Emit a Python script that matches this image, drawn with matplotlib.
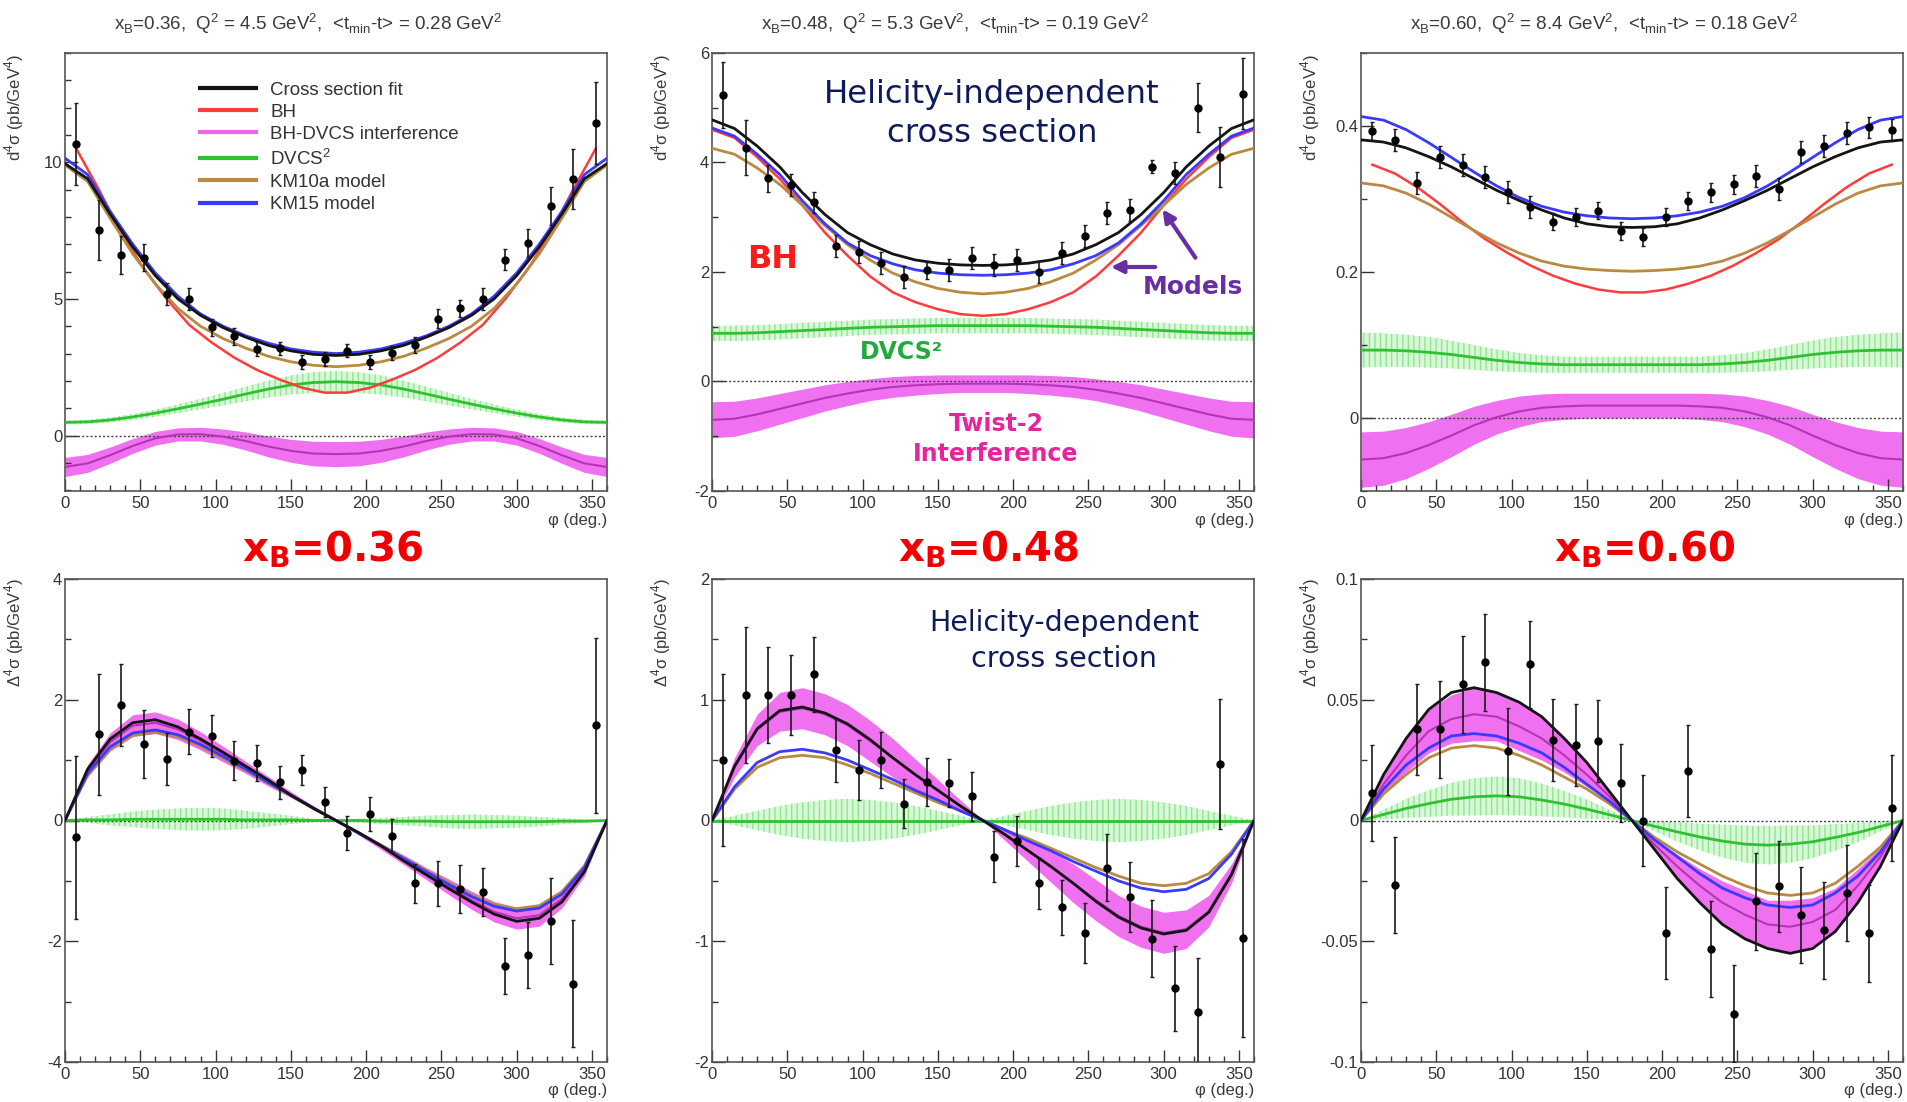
import numpy as np
import matplotlib
matplotlib.use('Agg')
import matplotlib.pyplot as plt
from matplotlib.lines import Line2D
from matplotlib.patches import FancyArrowPatch
from matplotlib.ticker import MultipleLocator, FuncFormatter

plt.rcParams['font.family'] = ['Liberation Sans', 'DejaVu Sans']
plt.rcParams['mathtext.fontset'] = 'custom'
plt.rcParams['mathtext.rm'] = 'Liberation Sans'
plt.rcParams['mathtext.bf'] = 'DejaVu Sans:bold'
plt.rcParams['hatch.linewidth'] = 1.0

# 1 Dados
phi_curva = np.arange(0, 361, 15)    # grelha das curvas (graus)
phi_bins = np.arange(7.5, 360, 15)   # centros dos bins

# 1.1 xB = 0.36 - seccao eficaz independente da helicidade
fit_036 = [9.95, 9.4, 8.1, 6.9, 5.85, 5.0, 4.4, 3.95, 3.6, 3.3, 3.1, 2.97, 2.93, 2.97, 3.1, 3.3, 3.6, 3.95, 4.4, 5.0, 5.85, 6.9, 8.1, 9.4, 9.95]
km15_036 = [10.15, 9.55, 8.2, 7.0, 5.95, 5.1, 4.45, 4.0, 3.65, 3.38, 3.17, 3.05, 3.0, 3.05, 3.17, 3.38, 3.65, 4.0, 4.45, 5.1, 5.95, 7.0, 8.2, 9.55, 10.15]
km10_036 = [9.9, 9.3, 7.95, 6.65, 5.55, 4.65, 4.0, 3.55, 3.2, 2.9, 2.7, 2.57, 2.52, 2.57, 2.7, 2.9, 3.2, 3.55, 4.0, 4.65, 5.55, 6.65, 7.95, 9.3, 9.9]
bh_036 = [10.5, 9.0, 7.4, 6.1, 5.0, 4.05, 3.4, 2.85, 2.4, 2.05, 1.75, 1.57, 1.57, 1.75, 2.05, 2.4, 2.85, 3.4, 4.05, 5.0, 6.1, 7.4, 9.0, 10.5]
dvcs_036 = [0.48, 0.5, 0.57, 0.68, 0.82, 0.98, 1.15, 1.33, 1.52, 1.7, 1.85, 1.94, 1.97, 1.94, 1.85, 1.7, 1.52, 1.33, 1.15, 0.98, 0.82, 0.68, 0.57, 0.5, 0.48]
dvcs_err_036 = [0.08, 0.08, 0.09, 0.11, 0.13, 0.16, 0.19, 0.23, 0.27, 0.31, 0.35, 0.38, 0.39, 0.38, 0.35, 0.31, 0.27, 0.23, 0.19, 0.16, 0.13, 0.11, 0.09, 0.08, 0.08]
int_036 = [-1.15, -1.02, -0.72, -0.38, -0.1, 0.04, 0.05, -0.04, -0.2, -0.4, -0.56, -0.66, -0.68, -0.66, -0.56, -0.4, -0.2, -0.04, 0.05, 0.04, -0.1, -0.38, -0.72, -1.02, -1.15]
int_err_036 = [0.35, 0.33, 0.3, 0.27, 0.25, 0.24, 0.25, 0.28, 0.33, 0.38, 0.42, 0.45, 0.46, 0.45, 0.42, 0.38, 0.33, 0.28, 0.25, 0.24, 0.25, 0.27, 0.3, 0.33, 0.35]
sig_036 = [10.68, 7.52, 6.60, 6.51, 5.17, 4.99, 3.96, 3.63, 3.17, 3.19, 2.70, 2.80, 3.11, 2.70, 3.03, 3.32, 4.28, 4.65, 4.99, 6.44, 7.05, 8.39, 9.38, 11.45]
err_036 = [1.5, 1.1, 0.7, 0.5, 0.4, 0.4, 0.3, 0.3, 0.25, 0.25, 0.25, 0.25, 0.25, 0.25, 0.25, 0.3, 0.35, 0.3, 0.4, 0.4, 0.5, 0.7, 1.1, 1.5]

# 1.2 xB = 0.48
fit_048 = [4.78, 4.62, 4.3, 3.92, 3.45, 3.05, 2.72, 2.5, 2.33, 2.22, 2.16, 2.13, 2.12, 2.13, 2.16, 2.22, 2.33, 2.5, 2.72, 3.05, 3.45, 3.92, 4.3, 4.62, 4.78]
km15_048 = [4.63, 4.48, 4.15, 3.78, 3.3, 2.88, 2.53, 2.3, 2.15, 2.04, 1.98, 1.95, 1.94, 1.95, 1.98, 2.04, 2.15, 2.3, 2.53, 2.88, 3.3, 3.78, 4.15, 4.48, 4.63]
km10_048 = [4.26, 4.15, 3.9, 3.6, 3.22, 2.85, 2.5, 2.22, 1.98, 1.82, 1.7, 1.63, 1.6, 1.63, 1.7, 1.82, 1.98, 2.22, 2.5, 2.85, 3.22, 3.6, 3.9, 4.15, 4.26]
bh_048 = [4.6, 4.45, 4.1, 3.7, 3.22, 2.72, 2.3, 1.92, 1.63, 1.45, 1.32, 1.23, 1.2, 1.23, 1.32, 1.45, 1.63, 1.92, 2.3, 2.72, 3.22, 3.7, 4.1, 4.45, 4.6]
dvcs_048 = [0.88, 0.88, 0.89, 0.91, 0.93, 0.95, 0.97, 0.99, 1.0, 1.01, 1.02, 1.02, 1.02, 1.02, 1.02, 1.01, 1.0, 0.99, 0.97, 0.95, 0.93, 0.91, 0.89, 0.88, 0.88]
dvcs_err_048 = [0.14, 0.14, 0.14, 0.14, 0.14, 0.14, 0.14, 0.14, 0.14, 0.14, 0.14, 0.14, 0.14, 0.14, 0.14, 0.14, 0.14, 0.14, 0.14, 0.14, 0.14, 0.14, 0.14, 0.14, 0.14]
int_048 = [-0.7, -0.68, -0.6, -0.5, -0.4, -0.3, -0.22, -0.15, -0.1, -0.07, -0.05, -0.04, -0.04, -0.04, -0.05, -0.07, -0.1, -0.15, -0.22, -0.3, -0.4, -0.5, -0.6, -0.68, -0.7]
int_err_048 = [0.33, 0.32, 0.3, 0.28, 0.26, 0.24, 0.22, 0.2, 0.19, 0.18, 0.17, 0.16, 0.16, 0.16, 0.17, 0.18, 0.19, 0.2, 0.22, 0.24, 0.26, 0.28, 0.3, 0.32, 0.33]
sig_048 = [5.23, 4.27, 3.71, 3.59, 3.27, 2.48, 2.37, 2.17, 1.91, 2.03, 2.03, 2.25, 2.12, 2.22, 2.0, 2.34, 2.65, 3.08, 3.14, 3.92, 3.8, 5.0, 4.1, 5.26]
err_048 = [0.6, 0.5, 0.25, 0.2, 0.2, 0.2, 0.2, 0.2, 0.2, 0.15, 0.2, 0.2, 0.2, 0.2, 0.2, 0.2, 0.2, 0.2, 0.2, 0.12, 0.2, 0.45, 0.55, 0.65]

# 1.3 xB = 0.60
fit_060 = [0.381, 0.378, 0.37, 0.358, 0.344, 0.328, 0.312, 0.298, 0.285, 0.274, 0.266, 0.262, 0.261, 0.262, 0.266, 0.274, 0.285, 0.298, 0.312, 0.328, 0.344, 0.358, 0.37, 0.378, 0.381]
km15_060 = [0.413, 0.408, 0.395, 0.377, 0.357, 0.337, 0.318, 0.302, 0.29, 0.282, 0.277, 0.274, 0.273, 0.274, 0.277, 0.282, 0.29, 0.302, 0.318, 0.337, 0.357, 0.377, 0.395, 0.408, 0.413]
km10_060 = [0.322, 0.318, 0.308, 0.293, 0.275, 0.257, 0.24, 0.226, 0.215, 0.208, 0.204, 0.202, 0.201, 0.202, 0.204, 0.208, 0.215, 0.226, 0.24, 0.257, 0.275, 0.293, 0.308, 0.318, 0.322]
bh_060 = [0.347, 0.335, 0.316, 0.293, 0.268, 0.245, 0.226, 0.209, 0.195, 0.184, 0.176, 0.172, 0.172, 0.176, 0.184, 0.195, 0.209, 0.226, 0.245, 0.268, 0.293, 0.316, 0.335, 0.347]
dvcs_060 = [0.093, 0.093, 0.092, 0.09, 0.087, 0.083, 0.079, 0.076, 0.074, 0.073, 0.073, 0.073, 0.073, 0.073, 0.073, 0.073, 0.074, 0.076, 0.079, 0.083, 0.087, 0.09, 0.092, 0.093, 0.093]
dvcs_err_060 = [0.024, 0.023, 0.022, 0.021, 0.019, 0.017, 0.015, 0.013, 0.012, 0.011, 0.011, 0.011, 0.011, 0.011, 0.011, 0.011, 0.012, 0.013, 0.015, 0.017, 0.019, 0.021, 0.022, 0.023, 0.024]
int_060 = [-0.057, -0.055, -0.048, -0.037, -0.024, -0.01, 0.001, 0.009, 0.014, 0.016, 0.017, 0.017, 0.017, 0.017, 0.017, 0.016, 0.014, 0.009, 0.001, -0.01, -0.024, -0.037, -0.048, -0.055, -0.057]
int_err_060 = [0.038, 0.037, 0.035, 0.032, 0.029, 0.026, 0.023, 0.021, 0.019, 0.018, 0.017, 0.017, 0.017, 0.017, 0.017, 0.018, 0.019, 0.021, 0.023, 0.026, 0.029, 0.032, 0.035, 0.037, 0.038]
sig_060 = [0.393, 0.381, 0.322, 0.358, 0.346, 0.330, 0.310, 0.289, 0.269, 0.275, 0.284, 0.256, 0.248, 0.275, 0.297, 0.309, 0.320, 0.331, 0.314, 0.364, 0.373, 0.391, 0.398, 0.394]
err_060 = [0.012, 0.015, 0.015, 0.015, 0.015, 0.015, 0.015, 0.015, 0.012, 0.012, 0.012, 0.012, 0.012, 0.012, 0.012, 0.013, 0.013, 0.015, 0.015, 0.015, 0.015, 0.015, 0.015, 0.015]

# 1.4 diferenca de helicidade, xB = 0.36
dfit_036 = [0, 0.85, 1.35, 1.62, 1.67, 1.55, 1.35, 1.13, 0.9, 0.67, 0.42, 0.2, 0, -0.2, -0.42, -0.67, -0.9, -1.13, -1.35, -1.55, -1.67, -1.62, -1.35, -0.85, 0]
dkm15_036 = [0, 0.78, 1.22, 1.45, 1.5, 1.42, 1.26, 1.06, 0.85, 0.63, 0.42, 0.21, 0, -0.21, -0.42, -0.63, -0.85, -1.06, -1.26, -1.42, -1.5, -1.45, -1.22, -0.78, 0]
dkm10_036 = [0, 0.75, 1.18, 1.41, 1.46, 1.39, 1.23, 1.03, 0.83, 0.62, 0.41, 0.2, 0, -0.2, -0.41, -0.62, -0.83, -1.03, -1.23, -1.39, -1.46, -1.41, -1.18, -0.75, 0]
dint_036 = [0, 0.82, 1.3, 1.57, 1.62, 1.51, 1.32, 1.1, 0.88, 0.65, 0.43, 0.21, 0, -0.21, -0.43, -0.65, -0.88, -1.1, -1.32, -1.51, -1.62, -1.57, -1.3, -0.82, 0]
dint_err_036 = [0, 0.1, 0.15, 0.18, 0.18, 0.17, 0.15, 0.13, 0.1, 0.08, 0.05, 0.03, 0, 0.03, 0.05, 0.08, 0.1, 0.13, 0.15, 0.17, 0.18, 0.18, 0.15, 0.1, 0]
ddvcs_036 = [0, 0.01, 0.01, 0.02, 0.02, 0.02, 0.02, 0.02, 0.01, 0.01, 0.01, 0, 0, 0, -0.01, -0.01, -0.01, -0.02, -0.02, -0.02, -0.02, -0.02, -0.01, -0.01, 0]
ddvcs_err_036 = [0, 0.05, 0.09, 0.13, 0.16, 0.18, 0.19, 0.18, 0.15, 0.11, 0.07, 0.03, 0, 0.03, 0.05, 0.07, 0.09, 0.11, 0.12, 0.11, 0.1, 0.08, 0.05, 0.03, 0]
dsig_036 = [-0.28, 1.43, 1.92, 1.27, 1.02, 1.47, 1.40, 0.99, 0.95, 0.63, 0.83, 0.31, -0.21, 0.11, -0.25, -1.04, -1.04, -1.13, -1.19, -2.41, -2.23, -1.67, -2.70, 1.58]
derr_036 = [1.35, 1.0, 0.68, 0.56, 0.43, 0.37, 0.35, 0.32, 0.30, 0.27, 0.25, 0.25, 0.28, 0.28, 0.28, 0.32, 0.37, 0.4, 0.4, 0.47, 0.55, 0.71, 1.05, 1.45]

# 1.5 diferenca de helicidade, xB = 0.48
dfit_048 = [0, 0.45, 0.76, 0.91, 0.94, 0.89, 0.8, 0.67, 0.52, 0.38, 0.25, 0.12, 0, -0.12, -0.25, -0.38, -0.52, -0.67, -0.8, -0.89, -0.94, -0.91, -0.76, -0.45, 0]
dkm15_048 = [0, 0.28, 0.48, 0.57, 0.59, 0.56, 0.5, 0.42, 0.34, 0.25, 0.17, 0.08, 0, -0.08, -0.17, -0.25, -0.34, -0.42, -0.5, -0.56, -0.59, -0.57, -0.48, -0.28, 0]
dkm10_048 = [0, 0.26, 0.44, 0.52, 0.54, 0.52, 0.46, 0.39, 0.31, 0.23, 0.15, 0.08, 0, -0.08, -0.15, -0.23, -0.31, -0.39, -0.46, -0.52, -0.54, -0.52, -0.44, -0.26, 0]
dint_048 = [0, 0.44, 0.75, 0.9, 0.93, 0.88, 0.79, 0.66, 0.52, 0.38, 0.25, 0.12, 0, -0.12, -0.25, -0.38, -0.52, -0.66, -0.79, -0.88, -0.93, -0.9, -0.75, -0.44, 0]
dint_err_048 = [0, 0.08, 0.13, 0.16, 0.17, 0.17, 0.17, 0.17, 0.16, 0.13, 0.09, 0.05, 0, 0.05, 0.09, 0.13, 0.16, 0.17, 0.17, 0.17, 0.17, 0.16, 0.13, 0.08, 0]
ddvcs_048 = [0, 0, 0, 0, 0, 0, 0, 0, 0, 0, 0, 0, 0, 0, 0, 0, 0, 0, 0, 0, 0, 0, 0, 0, 0]
ddvcs_err_048 = [0, 0.04, 0.08, 0.12, 0.15, 0.17, 0.18, 0.17, 0.15, 0.12, 0.08, 0.04, 0, 0.04, 0.08, 0.12, 0.15, 0.17, 0.18, 0.17, 0.15, 0.12, 0.08, 0.04, 0]
dsig_048 = [0.50, 1.04, 1.04, 1.04, 1.21, 0.58, 0.42, 0.50, 0.14, 0.32, 0.31, 0.20, -0.30, -0.17, -0.52, -0.72, -0.93, -0.39, -0.63, -0.98, -1.39, -1.59, 0.47, -0.97]
derr_048 = [0.71, 0.56, 0.40, 0.33, 0.31, 0.26, 0.25, 0.23, 0.20, 0.20, 0.20, 0.20, 0.21, 0.21, 0.21, 0.23, 0.25, 0.28, 0.29, 0.32, 0.35, 0.45, 0.54, 0.82]

# 1.6 diferenca de helicidade, xB = 0.60
dfit_060 = [0, 0.019, 0.034, 0.046, 0.053, 0.055, 0.053, 0.049, 0.043, 0.034, 0.024, 0.012, 0, -0.012, -0.024, -0.034, -0.043, -0.049, -0.053, -0.055, -0.053, -0.046, -0.034, -0.019, 0]
dkm15_060 = [0, 0.013, 0.023, 0.03, 0.035, 0.036, 0.035, 0.032, 0.028, 0.022, 0.015, 0.008, 0, -0.008, -0.015, -0.022, -0.028, -0.032, -0.035, -0.036, -0.035, -0.03, -0.023, -0.013, 0]
dkm10_060 = [0, 0.011, 0.019, 0.026, 0.03, 0.031, 0.03, 0.027, 0.023, 0.018, 0.013, 0.007, 0, -0.007, -0.013, -0.018, -0.023, -0.027, -0.03, -0.031, -0.03, -0.026, -0.019, -0.011, 0]
dint_060 = [0, 0.015, 0.027, 0.037, 0.042, 0.044, 0.043, 0.039, 0.034, 0.027, 0.019, 0.01, 0, -0.01, -0.019, -0.027, -0.034, -0.039, -0.043, -0.044, -0.042, -0.037, -0.027, -0.015, 0]
dint_err_060 = [0, 0.004, 0.007, 0.009, 0.01, 0.011, 0.01, 0.01, 0.009, 0.007, 0.005, 0.002, 0, 0.002, 0.005, 0.007, 0.009, 0.01, 0.01, 0.011, 0.01, 0.009, 0.007, 0.004, 0]
ddvcs_060 = [0, 0.0025, 0.005, 0.007, 0.0088, 0.0098, 0.0102, 0.0098, 0.0085, 0.0068, 0.0047, 0.0024, 0, -0.0024, -0.0047, -0.0068, -0.0085, -0.0098, -0.0102, -0.0098, -0.0088, -0.007, -0.005, -0.0025, 0]
ddvcs_err_060 = [0, 0.002, 0.004, 0.0055, 0.0068, 0.0077, 0.008, 0.0077, 0.0068, 0.0055, 0.004, 0.002, 0, 0.002, 0.004, 0.0055, 0.0068, 0.0077, 0.008, 0.0077, 0.0068, 0.0055, 0.004, 0.002, 0]
dsig_060 = [0.0114, -0.0267, 0.0377, 0.0377, 0.0564, 0.0655, 0.0286, 0.0647, 0.0332, 0.0314, 0.0329, 0.0155, 0.0, -0.0467, 0.0205, -0.0532, -0.080, -0.0335, -0.0273, -0.0391, -0.0455, -0.030, -0.0467, 0.0052]
derr_060 = [0.02, 0.02, 0.019, 0.02, 0.02, 0.02, 0.018, 0.018, 0.017, 0.017, 0.017, 0.016, 0.019, 0.019, 0.019, 0.02, 0.02, 0.02, 0.019, 0.02, 0.02, 0.02, 0.02, 0.022]

titulos = [r'x$_\mathregular{B}$=0.36,  Q$^\mathregular{2}$ = 4.5 GeV$^\mathregular{2}$,  <t$_\mathregular{min}$-t> = 0.28 GeV$^\mathregular{2}$',
           r'x$_\mathregular{B}$=0.48,  Q$^\mathregular{2}$ = 5.3 GeV$^\mathregular{2}$,  <t$_\mathregular{min}$-t> = 0.19 GeV$^\mathregular{2}$',
           r'x$_\mathregular{B}$=0.60,  Q$^\mathregular{2}$ = 8.4 GeV$^\mathregular{2}$,  <t$_\mathregular{min}$-t> = 0.18 GeV$^\mathregular{2}$']
rotulos_xb = [r'x$_\mathbf{B}$=0.36', r'x$_\mathbf{B}$=0.48', r'x$_\mathbf{B}$=0.60']

# cores
COR_FIT = '#141414'
COR_BH = '#ff3c3c'
COR_INT = '#b534b5'
COR_INT_BANDA = '#ee58ee'
COR_DVCS = '#2fc22f'
COR_KM10 = '#b88a42'
COR_KM15 = '#3a3aff'

W, H = 1907, 1102


def fx(px):
    return px / W


def fy(py):
    return 1 - py / H


# 2 Desenhar um painel
def desenhar_painel(ax, fit, km10, km15, inter, inter_err, dvcs, dvcs_err, sig, err, bh=None, phi_bh=None):
    inter, inter_err = np.array(inter), np.array(inter_err)
    dvcs, dvcs_err = np.array(dvcs), np.array(dvcs_err)
    # banda do DVCS^2 com tracejado vertical
    ax.fill_between(phi_curva, dvcs - dvcs_err, dvcs + dvcs_err, facecolor='#d9f7d9',
                    edgecolor='#8ee88e', hatch='|||', linewidth=0, zorder=1)
    ax.fill_between(phi_curva, inter - inter_err, inter + inter_err, color=COR_INT_BANDA,
                    alpha=0.85, linewidth=0, zorder=1)
    ax.axhline(0, color='#444444', lw=1.0, ls=(0, (1.5, 1.5)), zorder=2)
    ax.plot(phi_curva, dvcs, color=COR_DVCS, lw=2, zorder=3)
    ax.plot(phi_curva, inter, color=COR_INT, lw=1.5, zorder=3)
    if bh is not None:
        ax.plot(phi_bh, bh, color=COR_BH, lw=1.8, zorder=4)
    ax.plot(phi_curva, km10, color=COR_KM10, lw=2, zorder=4)
    ax.plot(phi_curva, km15, color=COR_KM15, lw=2, zorder=5)
    ax.plot(phi_curva, fit, color=COR_FIT, lw=2, zorder=6)
    ax.errorbar(phi_bins, sig, yerr=err, fmt='o', ms=5, mfc='black', mec='black',
                ecolor='#1a1a1a', elinewidth=1.2, capsize=1.5, zorder=7)


def eixos(ax, ylim, maior, menor):
    ax.set_xlim(0, 360)
    ax.set_ylim(ylim)
    ax.xaxis.set_major_locator(MultipleLocator(50))
    ax.xaxis.set_minor_locator(MultipleLocator(10))
    ax.yaxis.set_major_locator(MultipleLocator(maior))
    ax.yaxis.set_minor_locator(MultipleLocator(menor))
    ax.yaxis.set_major_formatter(FuncFormatter(lambda v, p: f'{round(v, 6):g}'))
    ax.tick_params(which='both', direction='in', top=False, right=False,
                   colors='#333333', labelsize=12)
    ax.tick_params(which='major', length=9, width=1)
    ax.tick_params(which='minor', length=4.5, width=1)
    ax.tick_params(axis='y', pad=2)
    for s in ax.spines.values():
        s.set_color('#555555')
        s.set_linewidth(1.2)


# 3 Figura
fig = plt.figure(figsize=(W / 100, H / 100), dpi=100)

col_x = [65, 712, 1361]
larg = 542
linhas = [(53, 491), (579, 1062)]

paineis_topo = [
    (fit_036, km10_036, km15_036, int_036, int_err_036, dvcs_036, dvcs_err_036, sig_036, err_036, bh_036, phi_bins, (-2.03, 14), 5, 1),
    (fit_048, km10_048, km15_048, int_048, int_err_048, dvcs_048, dvcs_err_048, sig_048, err_048, bh_048, phi_curva, (-2, 6), 2, 1),
    (fit_060, km10_060, km15_060, int_060, int_err_060, dvcs_060, dvcs_err_060, sig_060, err_060, bh_060, phi_bins, (-0.1, 0.5), 0.2, 0.1),
]
paineis_baixo = [
    (dfit_036, dkm10_036, dkm15_036, dint_036, dint_err_036, ddvcs_036, ddvcs_err_036, dsig_036, derr_036, (-4, 4), 2, 1),
    (dfit_048, dkm10_048, dkm15_048, dint_048, dint_err_048, ddvcs_048, ddvcs_err_048, dsig_048, derr_048, (-2, 2), 1, 0.5),
    (dfit_060, dkm10_060, dkm15_060, dint_060, dint_err_060, ddvcs_060, ddvcs_err_060, dsig_060, derr_060, (-0.1, 0.1), 0.05, 0.025),
]

eixos_topo = []
for i, p in enumerate(paineis_topo):
    y0, y1 = linhas[0]
    ax = fig.add_axes([fx(col_x[i]), fy(y1), larg / W, (y1 - y0) / H])
    desenhar_painel(ax, *p[:9], bh=p[9], phi_bh=p[10])
    eixos(ax, p[11], p[12], p[13])
    eixos_topo.append(ax)
    fig.text(fx(col_x[i] + larg / 2 - 28), fy(24), titulos[i], ha='center', va='center',
             fontsize=13.5, color='#3a3a3a')
    fig.text(fx(col_x[i] - 51), fy(y0 + 1), r'd$^\mathregular{4}$σ (pb/GeV$^\mathregular{4}$)',
             rotation=90, ha='center', va='top', fontsize=12, color='#3a3a3a')
    fig.text(fx(col_x[i] + larg), fy(521), 'φ (deg.)', ha='right', va='center',
             fontsize=12, color='#3a3a3a')

for i, p in enumerate(paineis_baixo):
    y0, y1 = linhas[1]
    ax = fig.add_axes([fx(col_x[i]), fy(y1), larg / W, (y1 - y0) / H])
    desenhar_painel(ax, *p[:9])
    eixos(ax, p[9], p[10], p[11])
    fig.text(fx(col_x[i] - 51), fy(y0 - 1), r'Δ$^\mathregular{4}$σ (pb/GeV$^\mathregular{4}$)',
             rotation=90, ha='center', va='top', fontsize=12, color='#3a3a3a')
    fig.text(fx(col_x[i] + larg), fy(1091), 'φ (deg.)', ha='right', va='center',
             fontsize=12, color='#3a3a3a')

# 4 Legenda no primeiro painel
entradas = [Line2D([], [], color=COR_FIT, lw=3), Line2D([], [], color=COR_BH, lw=3),
            Line2D([], [], color='#ee66ee', lw=3), Line2D([], [], color=COR_DVCS, lw=3),
            Line2D([], [], color=COR_KM10, lw=3), Line2D([], [], color=COR_KM15, lw=3)]
nomes = ['Cross section fit', 'BH', 'BH-DVCS interference', 'DVCS$^\\mathregular{2}$',
         'KM10a model', 'KM15 model']
leg = eixos_topo[0].legend(entradas, nomes, loc='upper left', bbox_to_anchor=(0.249, 0.935),
                           frameon=False, fontsize=13.5, handlelength=3.0, handletextpad=0.75,
                           labelspacing=0.27, borderpad=0, borderaxespad=0)
for t in leg.get_texts():
    t.set_color('#333333')

# 5 Anotacoes
fig.text(fx(992), fy(114), 'Helicity-independent\ncross section', ha='center', va='center',
         fontsize=23.3, color='#0f1a5a', family='DejaVu Sans', linespacing=1.32)
fig.text(fx(1064), fy(641), 'Helicity-dependent\ncross section', ha='center', va='center',
         fontsize=20.5, color='#0f1a5a', family='DejaVu Sans', linespacing=1.35)
fig.text(fx(773), fy(259), 'BH', ha='center', va='center', fontsize=23, color='#ff1a1a',
         family='DejaVu Sans', weight='bold')
fig.text(fx(1193), fy(287), 'Models', ha='center', va='center', fontsize=18, color='#6a2ea3',
         family='DejaVu Sans', weight='bold')
fig.text(fx(901), fy(352), 'DVCS²', ha='center', va='center', fontsize=17, color='#1faa3c',
         family='DejaVu Sans', weight='bold')
fig.text(fx(996), fy(439), 'Twist-2\nInterference', ha='center', va='center', fontsize=17,
         color='#e6249c', family='DejaVu Sans', weight='bold', linespacing=1.3)

for cauda, ponta in [((1197, 260), (1161, 207)), ((1158, 267), (1108, 267))]:
    seta = FancyArrowPatch((fx(cauda[0]), fy(cauda[1])), (fx(ponta[0]), fy(ponta[1])),
                           transform=fig.transFigure, arrowstyle='-|>', mutation_scale=18,
                           lw=3, color='#6a2ea3')
    fig.add_artist(seta)

for i, txt in enumerate(rotulos_xb):
    fig.text(fx([333, 989, 1645][i]), fy(550), txt, ha='center', va='center', fontsize=29,
             color='#f00000', family='DejaVu Sans', weight='bold')

fig.savefig('out.png', dpi=100)
